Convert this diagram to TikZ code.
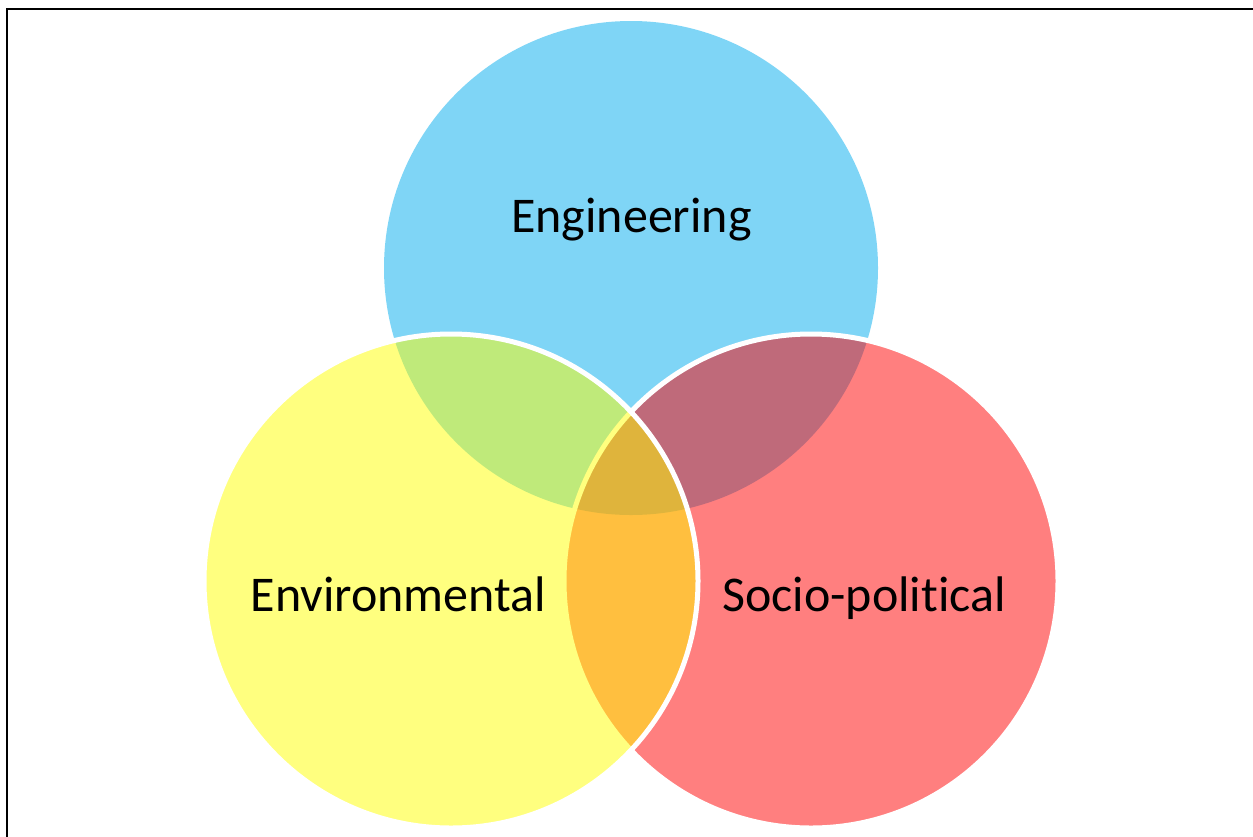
\documentclass[tikz,border=0pt]{standalone}
\usepackage{fontspec}
\setmainfont{Carlito}[Ligatures={NoCommon,NoRequired,NoContextual}]
\definecolor{engblue}{RGB}{0,173,239}
\definecolor{envyellow}{RGB}{255,255,0}
\definecolor{socred}{RGB}{255,0,0}
\tikzset{
  setfill/.style={fill=#1, fill opacity=0.5},
  whiteedge/.style={draw=white, line width=2.5pt, draw opacity=1},
  lbl/.style={font=\fontsize{25}{30}\selectfont, text=black, anchor=base, inner sep=0pt}
}
\begin{document}
\begin{tikzpicture}[x=0.5pt,y=-0.5pt]
\useasboundingbox (0,0) rectangle (1253,836);
\fill[white] (0,0) rectangle (1253,836);
% frame
\draw[black, line width=1pt] (7,840) -- (7,8.5) -- (1260,8.5);
% circles
\coordinate (ceng) at (631,268);
\coordinate (cenv) at (451,581);
\coordinate (csoc) at (811,581);
\fill[setfill=engblue] (ceng) circle[radius=123.5pt];
\path[setfill=socred, whiteedge] (csoc) circle[radius=123.5pt];
\path[setfill=envyellow, whiteedge] (cenv) circle[radius=123.5pt];
% labels
\node[lbl] (eng) at (631.5,232) {Engineering};
\node[lbl] (env) at (398.5,611) {Environmental};
\node[lbl] (soc) at (864,611) {Socio-polit\kern0pt ical};
\end{tikzpicture}
\end{document}
